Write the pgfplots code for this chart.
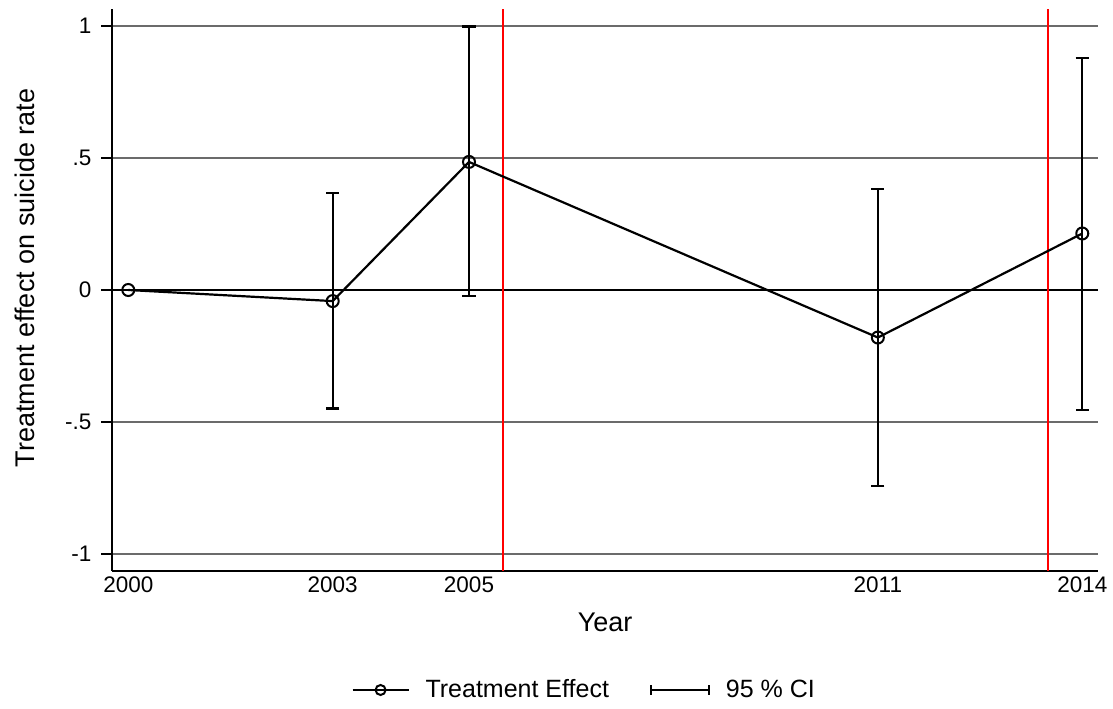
\documentclass[border=0pt]{standalone}
\usepackage{fontspec}
\setmainfont{Liberation Sans}
\usepackage{pgfplots}
\usepackage{pgfplotstable}
\pgfplotsset{compat=1.18}

% point estimates (2000 is the reference year)
\pgfplotstableread{
year b
2000 0
2003 -0.042
2005 0.485
2011 -0.180
2014 0.214
}\effect

% 95% confidence bounds
\pgfplotstableread{
year b lo hi
2003 -0.042 -0.449 0.367
2005 0.485 -0.024 0.998
2011 -0.180 -0.742 0.381
2014 0.214 -0.453 0.879
}\ci

\definecolor{gridgray}{gray}{0.42}

\begin{document}
\begin{tikzpicture}
\path[use as bounding box] (-56bp,-69.15bp) rectangle (500.5bp,285.35bp);
\begin{axis}[
  at={(0,0)}, anchor=south west,
  scale only axis,
  width=493.15bp, height=280.7bp,
  xmin=1999.761, xmax=2014.235,
  ymin=-1.063, ymax=1.063,
  axis x line*=bottom, axis y line*=left,
  axis line style={black, line width=1bp},
  xtick={2000,2003,2005,2011,2014},
  xticklabels={2000,2003,2005,2011,2014},
  ytick={-1,-0.5,0,0.5,1},
  yticklabels={-1,-.5,0,.5,1},
  xtick style={draw=none},
  ytick style={black, line width=0.8bp},
  tick align=outside,
  major tick length=5.5bp,
  ymajorgrids, xmajorgrids=false,
  major grid style={gridgray, line width=0.75bp},
  /pgf/number format/assume math mode=true,
  tick label style={font=\fontsize{11.25bp}{13bp}\selectfont},
  xticklabel style={inner sep=0pt, anchor=north, yshift=2.5bp},
  yticklabel style={inner sep=0pt, anchor=east, xshift=-4.6bp},
  label style={font=\fontsize{13.5bp}{16bp}\selectfont},
  xlabel={Year},
  xlabel style={at={(axis description cs:0.5,-0.1087)}, anchor=base},
  ylabel={Treatment effect on suicide rate},
  ylabel style={at={(axis description cs:-0.0781,0.5214)}, anchor=base},
  legend columns=2,
  legend style={at={(axis description cs:0.2425,-0.2125)}, anchor=west,
    draw=none, fill=none, inner sep=0pt,
    font=\fontsize{12.5bp}{15bp}\selectfont,
    nodes={inner sep=0pt, anchor=west},
    /tikz/every odd column/.append style={column sep=8bp},
    /tikz/every even column/.append style={column sep=20.5bp}},
]
% reference line at zero and the two policy dates
\addplot[black, line width=0.8bp, forget plot] coordinates {(1999.761,0) (2014.235,0)};
\addplot[red, line width=1bp, forget plot] coordinates {(2005.5,-1.063) (2005.5,1.063)};
\addplot[red, line width=1bp, forget plot] coordinates {(2013.5,-1.063) (2013.5,1.063)};

% point estimates
\addplot[black, line width=1.1bp, mark=o, mark size=3bp,
  mark options={line width=1bp},
  legend image code/.code={
    \draw[black, line width=1bp] (0bp,0bp) -- (28bp,0bp);
    \draw[black, line width=1bp] (14bp,0bp) circle (2.5bp);
  }] table[x=year, y=b] {\effect};
\addlegendentry{Treatment Effect}

% confidence intervals
\addplot[draw=none, mark=none,
  legend image code/.code={
    \draw[black, line width=1bp] (0bp,0bp) -- (29bp,0bp);
    \draw[black, line width=1bp] (0bp,-2.5bp) -- (0bp,2.5bp);
    \draw[black, line width=1bp] (29bp,-2.5bp) -- (29bp,2.5bp);
  },
  error bars/.cd, y dir=both, y explicit,
  error mark=|,
  error bar style={black, line width=1.1bp},
  error mark options={black, line width=1.1bp, mark size=3.3bp},
  ] table[x=year, y=b,
    y error plus expr=\thisrow{hi}-\thisrow{b},
    y error minus expr=\thisrow{b}-\thisrow{lo}] {\ci};
\addlegendentry[xshift=-3.5bp]{95 \% CI}
\end{axis}
\end{tikzpicture}
\end{document}
